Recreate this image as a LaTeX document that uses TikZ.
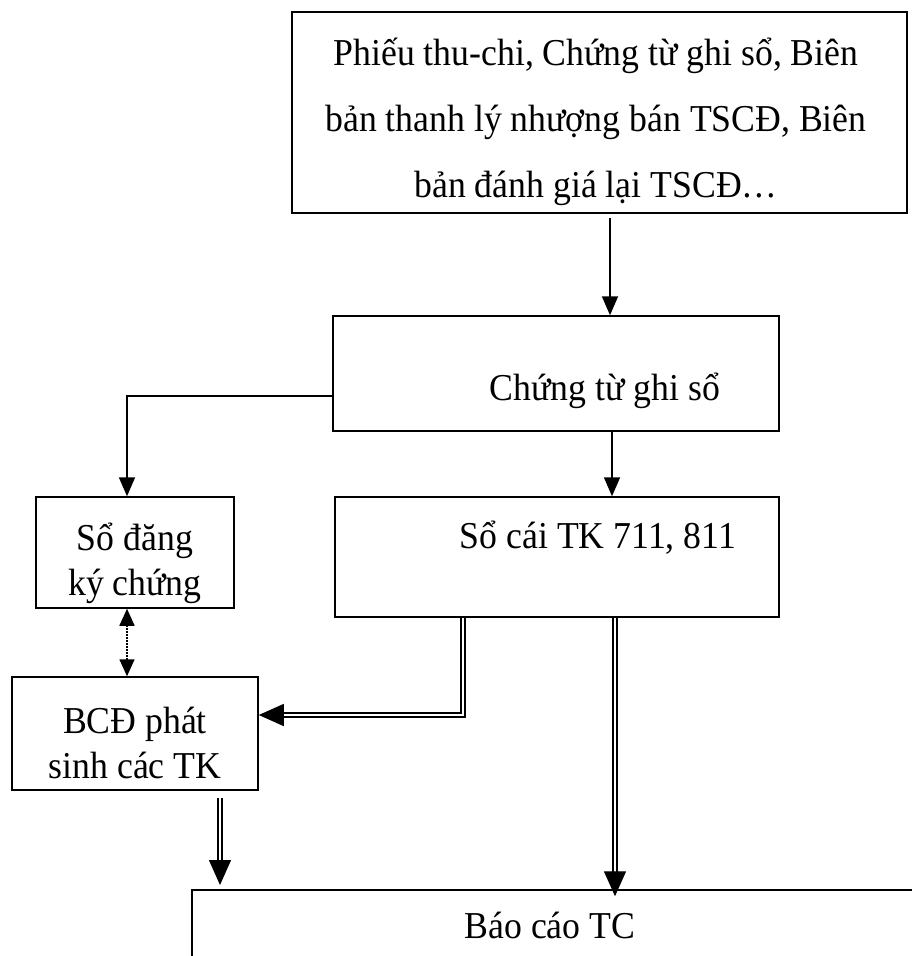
\documentclass[tikz,border=0pt]{standalone}
\usepackage{fontspec}
\setmainfont[FakeStretch=0.94]{Liberation Serif}
\usetikzlibrary{arrows.meta}
\begin{document}
\begin{tikzpicture}[x=1pt,y=-1pt,
  box/.style={draw, line width=1.5pt, inner sep=0pt},
  lbl/.style={font=\fontsize{38}{45}\selectfont, align=center, inner sep=0pt},
  flow/.style={line width=1.8pt, -{Triangle[length=19pt,width=16pt]}},
  dbl/.style={double, double distance=2.6pt, line width=1.4pt, -{Triangle[length=25pt,width=22pt]}},
  link/.style={line width=1.6pt, dash pattern=on 1.6pt off 1.4pt, {Triangle[length=17pt,width=15pt]}-{Triangle[length=17pt,width=15pt]}}]

\useasboundingbox (0,0) rectangle (911,956);

% boxes
\node[box, minimum width=615pt, minimum height=201pt] (src) at (599.5,112.5) {};
\node[box, minimum width=446pt, minimum height=115pt] (ctgs) at (556,373.5) {};
\node[box, minimum width=444pt, minimum height=120pt] (socai) at (557,557) {};
\node[box, minimum width=198pt, minimum height=111pt] (sodk) at (135,552.5) {};
\node[box, minimum width=246pt, minimum height=113pt] (bcd) at (135,733.5) {};
\node[box, minimum width=808pt, minimum height=120pt] (bc) at (596,950) {};

% texts
\node[lbl, font=\fontsize{38}{66}\selectfont] (srct) at (596,122)
  {Phiếu thu-chi, Chứng từ ghi sổ, Biên\\bản thanh lý nhượng bán TSCĐ, Biên\\bản đánh giá lại TSCĐ…};
\node[lbl] (ctgst) at (605,391) {Chứng từ ghi sổ};
\node[lbl] (socait) at (598,538) {Sổ cái TK 711, 811};
\node[lbl] (sodkt) at (135,563) {Sổ đăng\\ký chứng};
\node[lbl] (bcdt) at (135,743) {BCĐ phát\\sinh các TK};
\node[lbl] (bct) at (550,925) {Báo cáo TC};

% connectors
\draw[flow] (610,218) -- (610,0 |- ctgs.north);
\draw[flow] (ctgs.west |- 0,396) -- (127,396) -- (127,0 |- sodk.north);
\draw[flow] (612,0 |- ctgs.south) -- (612,0 |- socai.north);
\draw[link] (127,0 |- sodk.south) -- (127,0 |- bcd.north);
\draw[dbl] (463,0 |- socai.south) -- (463,715) -- (bcd.east |- 0,715);
\draw[dbl, shorten >=-7pt] (615,0 |- socai.south) -- (615,0 |- bc.north);
\draw[dbl] (220,798) -- (220,885);
\end{tikzpicture}
\end{document}
